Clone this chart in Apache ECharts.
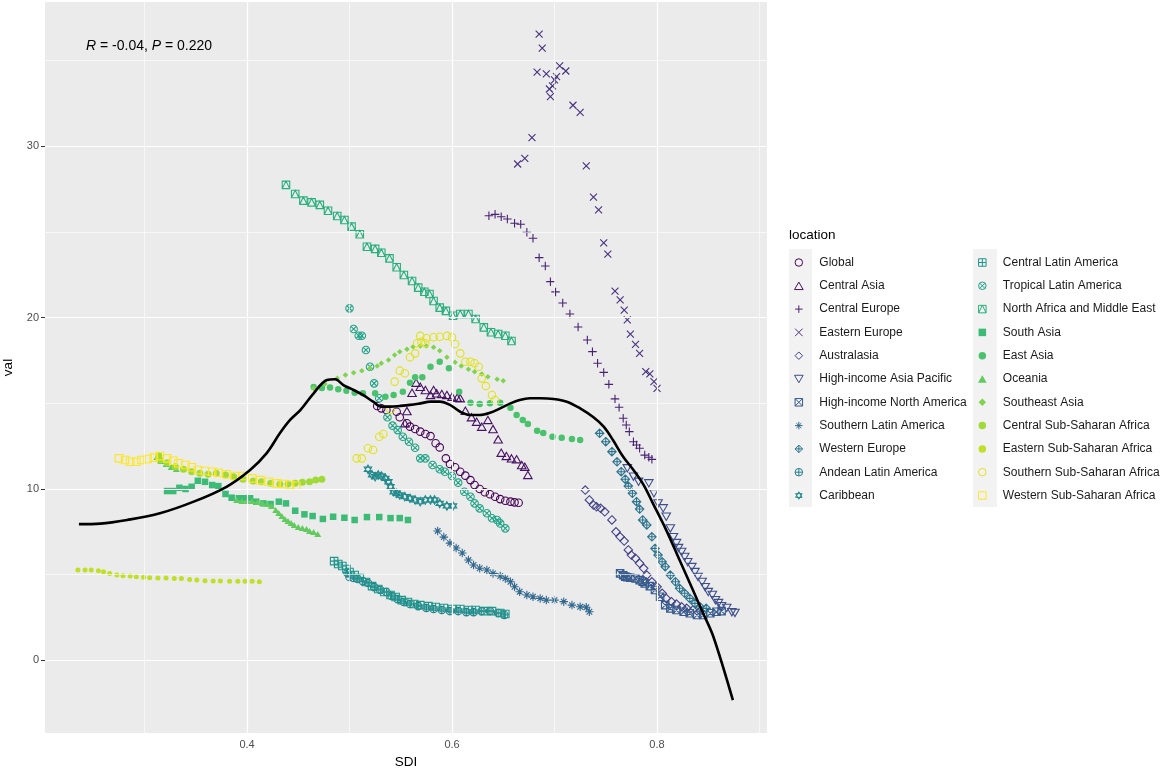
<!DOCTYPE html>
<html><head><meta charset="utf-8">
<script src="https://cdn.jsdelivr.net/npm/echarts@6/dist/echarts.min.js"></script>
<style>html,body{margin:0;padding:0;background:#fff}#chart{width:1160px;height:769px}</style>
</head><body><div id="chart"></div>
<script>
const locations = ['Global','Central Asia','Central Europe','Eastern Europe','Australasia','High-income Asia Pacific','High-income North America','Southern Latin America','Western Europe','Andean Latin America','Caribbean','Central Latin America','Tropical Latin America','North Africa and Middle East','South Asia','East Asia','Oceania','Southeast Asia','Central Sub-Saharan Africa','Eastern Sub-Saharan Africa','Southern Sub-Saharan Africa','Western Sub-Saharan Africa'];

const globalPts = [[0.527,14.84],[0.531,14.70],[0.536,14.60],[0.546,14.50],[0.549,14.18],[0.556,13.83],[0.559,13.63],[0.564,13.49],[0.569,13.34],[0.574,13.20],[0.579,13.08],[0.584,12.66],[0.588,12.42],[0.594,11.78],[0.598,11.45],[0.603,11.26],[0.608,11.00],[0.613,10.77],[0.618,10.51],[0.622,10.22],[0.627,9.99],[0.632,9.80],[0.637,9.68],[0.642,9.54],[0.647,9.40],[0.652,9.30],[0.657,9.25],[0.661,9.21],[0.665,9.19]];
const centralAsia = [[0.556,14.54],[0.554,13.83],[0.561,15.61],[0.565,16.20],[0.569,15.96],[0.574,15.77],[0.579,15.48],[0.582,15.77],[0.585,15.58],[0.590,15.54],[0.595,15.48],[0.600,15.38],[0.605,15.32],[0.608,15.29],[0.613,14.56],[0.619,14.18],[0.624,13.92],[0.629,13.63],[0.635,14.02],[0.640,13.49],[0.645,12.89],[0.648,12.11],[0.653,11.92],[0.658,11.78],[0.663,11.73],[0.668,11.39],[0.671,11.29],[0.674,10.81]];
const centralEurope = [[0.636,25.95],[0.642,26.03],[0.648,25.89],[0.654,25.76],[0.661,25.51],[0.667,25.45],[0.673,24.98],[0.679,24.63],[0.685,23.50],[0.691,23.01],[0.696,22.10],[0.701,21.50],[0.708,20.85],[0.715,20.21],[0.723,19.45],[0.732,18.69],[0.737,18.01],[0.742,17.33],[0.748,16.80],[0.753,16.10],[0.759,15.25],[0.763,14.76],[0.767,14.12],[0.770,13.73],[0.773,13.34],[0.777,12.75],[0.780,12.56],[0.783,12.37],[0.788,11.97],[0.792,11.84],[0.795,11.72]];
const easternEurope = [[0.685,36.55],[0.688,35.73],[0.683,34.33],[0.692,34.23],[0.705,34.70],[0.711,34.40],[0.702,34.07],[0.700,33.88],[0.698,33.53],[0.695,33.35],[0.696,32.90],[0.718,32.40],[0.725,31.99],[0.678,30.51],[0.671,29.30],[0.664,28.97],[0.731,28.86],[0.738,27.03],[0.743,26.29],[0.748,24.36],[0.752,23.71],[0.759,21.55],[0.764,21.03],[0.768,20.44],[0.771,19.86],[0.774,19.04],[0.779,18.44],[0.783,17.91],[0.789,16.84],[0.793,16.71],[0.797,16.26],[0.800,15.87]];
const australasia = [[0.730,9.93],[0.734,9.35],[0.738,9.05],[0.741,8.95],[0.745,8.86],[0.749,8.66],[0.756,8.18],[0.760,7.49],[0.764,7.20],[0.768,6.95],[0.772,6.43],[0.775,6.13],[0.779,5.94],[0.783,5.65],[0.787,5.36],[0.790,4.96],[0.795,4.57],[0.800,4.28],[0.805,3.90],[0.809,3.60],[0.814,3.41],[0.819,3.27],[0.824,3.11],[0.829,3.02],[0.835,2.92],[0.842,2.86]];
const hiAsiaPacific = [[0.771,11.20],[0.777,10.71],[0.782,10.41],[0.792,10.32],[0.797,9.74],[0.801,9.15],[0.806,8.86],[0.809,8.37],[0.813,7.69],[0.816,7.18],[0.819,6.83],[0.821,6.54],[0.824,6.31],[0.827,6.02],[0.830,5.72],[0.834,5.43],[0.837,5.14],[0.840,4.85],[0.844,4.56],[0.847,4.26],[0.850,3.97],[0.854,3.80],[0.857,3.50],[0.860,3.33],[0.863,3.15],[0.868,3.04],[0.873,2.80],[0.876,2.75]];
const hiNorthAmerica = [[0.764,5.06],[0.767,4.95],[0.769,4.87],[0.771,4.84],[0.774,4.81],[0.779,4.77],[0.783,4.67],[0.786,4.58],[0.788,4.48],[0.793,4.32],[0.798,4.09],[0.803,3.70],[0.808,3.21],[0.813,3.02],[0.819,2.92],[0.826,2.82],[0.832,2.73],[0.839,2.63],[0.845,2.63],[0.852,2.73],[0.858,2.82],[0.863,2.86]];
const southernLatAm = [[0.586,7.54],[0.592,7.18],[0.598,6.83],[0.604,6.54],[0.610,6.25],[0.616,5.84],[0.621,5.55],[0.627,5.36],[0.634,5.26],[0.640,5.06],[0.647,4.91],[0.652,4.77],[0.657,4.57],[0.661,4.28],[0.666,3.99],[0.673,3.80],[0.679,3.70],[0.686,3.60],[0.692,3.50],[0.700,3.50],[0.709,3.41],[0.717,3.21],[0.725,3.11],[0.731,3.08],[0.734,2.82]];
const westernEurope = [[0.744,13.24],[0.750,12.75],[0.756,12.17],[0.761,11.58],[0.765,11.00],[0.769,10.56],[0.772,10.16],[0.776,9.74],[0.780,9.25],[0.783,8.82],[0.786,8.18],[0.790,7.89],[0.795,7.20],[0.798,6.52],[0.801,6.13],[0.805,5.74],[0.808,5.45],[0.813,4.96],[0.818,4.57],[0.822,4.19],[0.827,3.90],[0.832,3.60],[0.837,3.31],[0.842,3.11],[0.848,3.02]];
const andeanLatAm = [[0.498,5.08],[0.500,4.85],[0.504,4.79],[0.508,4.73],[0.513,4.61],[0.518,4.50],[0.524,4.26],[0.530,4.09],[0.536,3.97],[0.541,3.74],[0.547,3.56],[0.553,3.39],[0.559,3.27],[0.567,3.15],[0.575,3.04],[0.582,2.98],[0.590,2.92],[0.598,2.86],[0.606,2.86],[0.614,2.80],[0.621,2.80],[0.629,2.86],[0.637,2.86],[0.645,2.75],[0.651,2.63]];
const caribbean = [[0.518,11.14],[0.522,10.81],[0.525,10.71],[0.528,10.81],[0.531,10.75],[0.535,10.61],[0.538,10.41],[0.540,10.12],[0.543,9.83],[0.546,9.74],[0.549,9.64],[0.554,9.54],[0.559,9.45],[0.564,9.35],[0.569,9.25],[0.574,9.35],[0.579,9.35],[0.583,9.35],[0.588,9.15],[0.595,9.00],[0.601,9.00]];
const centralLatAm = [[0.485,5.78],[0.489,5.61],[0.493,5.49],[0.497,5.32],[0.500,5.14],[0.505,4.97],[0.510,4.79],[0.516,4.56],[0.522,4.32],[0.528,4.15],[0.534,3.97],[0.540,3.80],[0.545,3.68],[0.551,3.50],[0.557,3.39],[0.563,3.27],[0.569,3.21],[0.577,3.15],[0.584,3.10],[0.592,3.04],[0.600,2.98],[0.608,2.98],[0.616,2.92],[0.623,2.92],[0.631,2.86],[0.639,2.86],[0.647,2.75],[0.652,2.69]];
const tropicalLatAm = [[0.500,20.54],[0.504,19.33],[0.509,18.94],[0.512,18.94],[0.516,18.11],[0.520,17.13],[0.524,16.16],[0.529,15.29],[0.537,14.18],[0.542,13.69],[0.547,13.43],[0.552,13.04],[0.558,12.75],[0.564,12.40],[0.569,11.78],[0.574,11.78],[0.581,11.39],[0.588,11.14],[0.593,11.00],[0.600,10.75],[0.606,10.36],[0.612,9.83],[0.618,9.54],[0.622,9.15],[0.627,8.86],[0.634,8.57],[0.639,8.28],[0.644,8.18],[0.647,7.98],[0.652,7.69]];
const northAfricaME = [[0.438,27.75],[0.447,27.22],[0.455,26.83],[0.463,26.73],[0.471,26.58],[0.479,26.24],[0.488,25.93],[0.495,25.70],[0.502,25.31],[0.510,24.87],[0.517,24.14],[0.525,24.01],[0.531,23.79],[0.539,23.46],[0.546,22.94],[0.553,22.49],[0.561,22.14],[0.567,21.75],[0.573,21.51],[0.578,21.38],[0.582,20.97],[0.588,20.58],[0.594,20.39],[0.601,20.11],[0.608,20.21],[0.616,20.21],[0.623,19.92],[0.631,19.43],[0.638,19.14],[0.645,19.04],[0.652,18.94],[0.658,18.63]];
const southAsia = [[0.322,9.87],[0.328,9.87],[0.334,10.06],[0.340,9.99],[0.346,10.12],[0.352,10.47],[0.359,10.41],[0.366,10.22],[0.372,10.16],[0.379,9.70],[0.385,9.48],[0.392,9.45],[0.398,9.45],[0.403,9.45],[0.409,9.25],[0.416,9.15],[0.423,9.11],[0.431,9.25],[0.438,9.15],[0.447,8.72],[0.456,8.51],[0.464,8.41],[0.474,8.24],[0.484,8.37],[0.495,8.31],[0.505,8.18],[0.517,8.35],[0.529,8.35],[0.540,8.29],[0.549,8.29],[0.557,8.18]];
const eastAsia = [[0.465,15.95],[0.473,15.89],[0.481,15.91],[0.489,15.81],[0.497,15.73],[0.505,15.61],[0.513,15.58],[0.525,15.58],[0.535,15.38],[0.543,15.48],[0.552,15.67],[0.559,16.20],[0.564,16.51],[0.571,16.51],[0.579,17.13],[0.588,17.42],[0.597,17.04],[0.607,15.67],[0.618,15.03],[0.627,14.95],[0.637,14.99],[0.647,15.03],[0.657,14.74],[0.663,14.31],[0.669,14.02],[0.674,13.79],[0.683,13.39],[0.689,13.26],[0.698,13.04],[0.707,12.98],[0.717,12.91],[0.725,12.85]];
const oceania = [[0.312,11.86],[0.316,11.62],[0.321,11.45],[0.326,11.27],[0.331,11.16],[0.390,9.35],[0.395,9.29],[0.400,9.29],[0.405,9.29],[0.410,9.23],[0.415,9.17],[0.420,9.11],[0.424,9.00],[0.428,8.76],[0.431,8.59],[0.434,8.41],[0.437,8.24],[0.440,8.12],[0.443,8.00],[0.446,7.89],[0.450,7.77],[0.454,7.71],[0.458,7.65],[0.461,7.54],[0.465,7.48],[0.469,7.36]];
const southeastAsia = [[0.465,15.87],[0.476,16.12],[0.488,16.45],[0.496,16.65],[0.504,16.78],[0.512,16.90],[0.520,17.04],[0.527,17.17],[0.531,17.33],[0.538,17.52],[0.544,17.82],[0.549,18.01],[0.556,18.15],[0.562,18.30],[0.569,18.34],[0.575,18.34],[0.582,18.27],[0.588,18.07],[0.595,17.68],[0.603,17.39],[0.609,17.17],[0.616,16.98],[0.622,16.84],[0.629,16.71],[0.635,16.55],[0.644,16.40],[0.650,16.31]];
const centralSSA = [[0.314,11.93],[0.315,11.68],[0.322,11.52],[0.330,11.29],[0.338,11.14],[0.346,11.00],[0.354,10.91],[0.362,10.85],[0.370,10.91],[0.379,10.81],[0.387,10.71],[0.396,10.56],[0.406,10.46],[0.414,10.41],[0.423,10.32],[0.432,10.26],[0.440,10.28],[0.447,10.32],[0.454,10.38],[0.461,10.41],[0.467,10.51],[0.473,10.56]];
const easternSSA = [[0.235,5.26],[0.242,5.26],[0.248,5.26],[0.255,5.22],[0.260,5.16],[0.266,5.06],[0.273,4.96],[0.279,4.92],[0.286,4.91],[0.292,4.87],[0.299,4.83],[0.305,4.81],[0.313,4.79],[0.321,4.79],[0.329,4.77],[0.336,4.77],[0.344,4.71],[0.351,4.67],[0.359,4.63],[0.367,4.61],[0.374,4.61],[0.383,4.60],[0.391,4.60],[0.398,4.60],[0.405,4.60],[0.412,4.57]];
const southernSSA = [[0.507,11.78],[0.512,11.78],[0.518,12.37],[0.523,12.27],[0.529,13.04],[0.533,13.20],[0.540,14.60],[0.544,16.26],[0.549,16.90],[0.554,16.75],[0.559,17.68],[0.564,17.91],[0.566,18.50],[0.570,18.59],[0.574,18.50],[0.569,18.93],[0.575,18.79],[0.582,18.85],[0.588,18.88],[0.595,18.93],[0.600,18.85],[0.603,18.46],[0.608,17.91],[0.613,17.42],[0.618,17.42],[0.622,17.33],[0.626,17.13],[0.629,16.45],[0.633,16.00],[0.639,15.48],[0.642,15.19]];
const westernSSA = [[0.275,11.78],[0.281,11.68],[0.286,11.58],[0.292,11.58],[0.297,11.68],[0.303,11.74],[0.309,11.82],[0.315,11.92],[0.322,11.78],[0.328,11.64],[0.333,11.49],[0.340,11.39],[0.346,11.26],[0.352,11.10],[0.359,11.04],[0.366,11.00],[0.372,10.94],[0.380,10.85],[0.388,10.75],[0.396,10.75],[0.405,10.61],[0.413,10.51],[0.421,10.41],[0.429,10.32],[0.435,10.28],[0.442,10.22],[0.448,10.18]];
const smoothLine = [[0.236,7.94],[0.257,7.97],[0.283,8.18],[0.315,8.57],[0.348,9.25],[0.380,10.12],[0.403,11.10],[0.419,12.07],[0.432,13.24],[0.442,14.02],[0.452,14.60],[0.465,15.58],[0.478,16.36],[0.486,16.40],[0.494,16.06],[0.504,15.77],[0.513,15.48],[0.523,15.09],[0.531,14.80],[0.540,14.80],[0.549,14.84],[0.559,14.90],[0.569,14.99],[0.579,15.09],[0.588,15.09],[0.598,14.90],[0.608,14.50],[0.618,14.31],[0.627,14.31],[0.637,14.44],[0.647,14.70],[0.657,14.99],[0.666,15.19],[0.676,15.29],[0.686,15.29],[0.699,15.25],[0.712,15.09],[0.725,14.70],[0.738,14.18],[0.748,13.63],[0.757,12.85],[0.767,11.87],[0.777,11.10],[0.787,10.22],[0.796,9.15],[0.809,7.59],[0.822,5.84],[0.835,4.09],[0.845,2.73],[0.855,1.36],[0.874,-2.34]];

const xTicks = [0.4, 0.6, 0.8];
const xMinor = [0.3, 0.5, 0.7, 0.9];
const yTicks = [0, 10, 20, 30];
const yMinor = [5, 15, 25, 35];
const annotation = '{i|R} = -0.04, {i|P} = 0.220';

const seriesValues = [globalPts, centralAsia, centralEurope, easternEurope, australasia, hiAsiaPacific, hiNorthAmerica, southernLatAm, westernEurope, andeanLatAm, caribbean, centralLatAm, tropicalLatAm, northAfricaME, southAsia, eastAsia, oceania, southeastAsia, centralSSA, easternSSA, southernSSA, westernSSA];

// styling
const palette = ['#440154','#471164','#482373','#46327E','#424186','#3D4E8A','#375B8D','#31688E','#2C738E','#277F8E','#238A8D','#1F968B','#20A386','#29AF7F','#3BBB75','#4AC16D','#62CA5F','#7FD34E','#A0DA39','#C0DF25','#E0E318','#FDE725'];
const C = 'M0,5A5,5 0 1,1 10,5A5,5 0 1,1 0,5Z';
const SQ = 'M0,0L10,0L10,10L0,10Z';
const PL = 'M5,0L5,10M0,5L10,5';
const XX = 'M0,0L10,10M10,0L0,10';
const XS = 'M1.46,1.46L8.54,8.54M8.54,1.46L1.46,8.54';
const DI = 'M5,0L10,5L5,10L0,5Z';
// [path, size, filled]
const shapeDefs = [
  [C, 7.5, false],
  ['M5,0L10,8.66L0,8.66Z', 8.5, false],
  [PL, 8.5, false],
  [XX, 7, false],
  [DI, 8.5, false],
  ['M0,0L10,0L5,8.66Z', 8.5, false],
  [SQ + XX, 7.5, false],
  [PL + 'M1.7,1.7L8.3,8.3M8.3,1.7L1.7,8.3', 8.5, false],
  [DI + PL, 8.5, false],
  [C + PL, 7.5, false],
  ['M5,0L9.33,7.5L0.67,7.5Z M5,10L0.67,2.5L9.33,2.5Z', 8.5, false],
  [SQ + PL, 7.5, false],
  [C + XS, 7.5, false],
  [SQ + 'M0,10L5,0L10,10', 7.5, false],
  [SQ, 6.5, true],
  [C, 6.5, true],
  ['M5,0L10,8.66L0,8.66Z', 7, true],
  [DI, 5.5, true],
  [C, 7, true],
  [C, 5, true],
  [C, 7.5, false],
  [SQ, 7.5, false]
];

const FONT = '"Liberation Sans", Arial, Helvetica, sans-serif';

const series = locations.map((name, i) => {
  const [path, size, filled] = shapeDefs[i];
  return {
    name: name,
    type: 'scatter',
    data: seriesValues[i],
    symbol: 'path://' + path,
    symbolSize: size,
    symbolKeepAspect: true,
    z: 3,
    itemStyle: filled
      ? { color: palette[i], borderWidth: 0, opacity: 1 }
      : { color: 'rgba(0,0,0,0)', borderColor: palette[i], borderWidth: 1.1, opacity: 1 },
    emphasis: { disabled: true }
  };
});

series.unshift({
  name: '_grid',
  type: 'scatter',
  data: [],
  z: 1,
  silent: true,
  markLine: {
    silent: true,
    symbol: ['none', 'none'],
    label: { show: false },
    animation: false,
    lineStyle: { color: '#ffffff', type: 'solid' },
    emphasis: { disabled: true },
    data: [
      ...xMinor.map(v => ({ xAxis: v, lineStyle: { width: 0.6, color: '#fff', type: 'solid' } })),
      ...yMinor.map(v => ({ yAxis: v, lineStyle: { width: 0.6, color: '#fff', type: 'solid' } })),
      ...xTicks.map(v => ({ xAxis: v, lineStyle: { width: 1.2, color: '#fff', type: 'solid' } })),
      ...yTicks.map(v => ({ yAxis: v, lineStyle: { width: 1.2, color: '#fff', type: 'solid' } }))
    ]
  }
});

series.push({
  name: 'fit',
  type: 'line',
  data: smoothLine,
  showSymbol: false,
  smooth: 0.35,
  z: 5,
  silent: true,
  lineStyle: { color: '#000', width: 2.6 },
  emphasis: { disabled: true }
});

function legendItems(from, to) {
  return locations.slice(from, to).map((name, k) => {
    const i = from + k;
    const filled = shapeDefs[i][2];
    return {
      name: name,
      itemStyle: filled
        ? { color: palette[i], borderWidth: 0 }
        : { color: 'rgba(0,0,0,0)', borderColor: palette[i], borderWidth: 1 }
    };
  });
}

const legendCommon = {
  orient: 'vertical',
  itemWidth: 23,
  itemHeight: 7.5,
  itemGap: 9.3,
  selectedMode: false,
  symbolKeepAspect: true,
  textStyle: { fontFamily: FONT, fontSize: 12, color: '#1a1a1a', lineHeight: 14, padding: [0, 0, 0, 4] }
};

const chart = echarts.init(document.getElementById('chart'), null, { renderer: 'canvas' });
chart.setOption({
  animation: false,
  backgroundColor: '#ffffff',
  textStyle: { fontFamily: FONT },
  title: {
    text: annotation,
    left: 81, top: 34,
    textStyle: {
      fontFamily: FONT, fontSize: 14, fontWeight: 'normal', color: '#000',
      rich: { i: { fontStyle: 'italic', fontFamily: FONT, fontSize: 14, color: '#000' } }
    }
  },
  grid: { left: 45, top: 2, width: 722, height: 731, show: true, backgroundColor: '#EBEBEB', borderWidth: 0, containLabel: false, outerBoundsMode: 'none' },
  xAxis: {
    type: 'value', min: 0.2029, max: 0.9073,
    name: 'SDI', nameLocation: 'middle', nameGap: 22,
    nameTextStyle: { fontFamily: FONT, fontSize: 13.5, color: '#000' },
    axisLine: { show: false },
    axisTick: { show: true, length: 4, lineStyle: { color: '#333' }, customValues: xTicks },
    axisLabel: { customValues: xTicks, fontSize: 11, color: '#4D4D4D', margin: 6, fontFamily: FONT, formatter: v => v.toFixed(1) },
    splitLine: { show: false }
  },
  yAxis: {
    type: 'value', min: -4.26, max: 38.43,
    name: 'val', nameLocation: 'middle', nameGap: 30,
    nameTextStyle: { fontFamily: FONT, fontSize: 13.5, color: '#000' },
    axisLine: { show: false },
    axisTick: { show: true, length: 4, lineStyle: { color: '#333' }, customValues: yTicks },
    axisLabel: { customValues: yTicks, fontSize: 11, color: '#4D4D4D', margin: 6, fontFamily: FONT },
    splitLine: { show: false }
  },
  legend: [
    Object.assign({}, legendCommon, { data: legendItems(0, 11), left: 789, top: 250.5 }),
    Object.assign({}, legendCommon, { data: legendItems(11, 22), left: 973, top: 250.5 })
  ],
  graphic: [
    { type: 'text', left: 789, top: 228, style: { text: 'location', fontFamily: FONT, fontSize: 13.5, fill: '#000' } },
    { type: 'rect', z: -1, shape: { x: 789, y: 249, width: 23, height: 258 }, style: { fill: '#F2F2F2' } },
    { type: 'rect', z: -1, shape: { x: 973, y: 249, width: 24, height: 258 }, style: { fill: '#F2F2F2' } }
  ],
  series: series
});
</script></body></html>
